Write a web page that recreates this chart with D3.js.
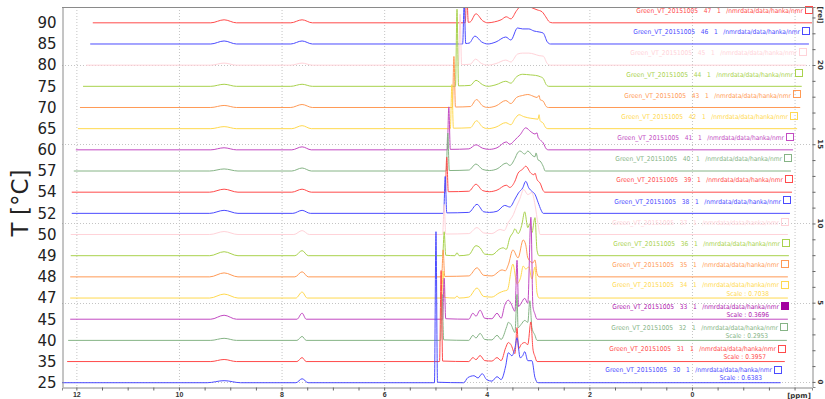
<!DOCTYPE html>
<html>
<head>
<meta charset="utf-8">
<script src="https://cdn.jsdelivr.net/npm/d3@7"></script>
<style>
  body { margin: 0; background: #fff; }
  svg { display: block; font-family: "DejaVu Sans", sans-serif; }
  .lbl { white-space: pre; font-family: "DejaVu Sans Condensed", "DejaVu Sans", sans-serif; font-size: 6.6px; }
</style>
</head>
<body>
<svg id="chart" width="825" height="399"></svg>
<script>
// stacked VT spectra, bottom (25 °C) to top (90 °C)
const temps = [25, 35, 40, 45, 47, 48, 49, 50, 52, 54, 57, 60, 65, 70, 75, 80, 85, 90];
const expnos = [30, 31, 32, 33, 34, 35, 36, 37, 38, 39, 40, 41, 42, 43, 44, 45, 46, 47];
const scaleFactors = [0.6383, 0.3957, 0.2953, 0.3696, 0.7038, null, null, null, null,
  null, null, null, null, null, null, null, null, null];
const ppmFrom = [12.28, 12.18, 12.16, 12.12, 12.12, 12.12, 12.11, 12.11, 12.09,
  12.09, 12.05, 12.01, 11.97, 11.93, 11.87, 11.81, 11.73, 11.68];
const ppmTo = [-1.73, -1.81, -1.85, -1.87, -1.87, -1.87, -1.89, -1.87, -1.91,
  -1.95, -1.93, -1.97, -2.05, -2.11, -2.14, -2.22, -2.28, -2.34];
const selected = 3; // expno 33 has the filled box

const lineColors = ["#4b4bff", "#ff4b4b", "#86b486", "#c24ac2",
  "#ffd94f", "#ff9a55", "#a9d24d", "#ffd3d9"];

// [ppm, intensity (rel)], baseline implied elsewhere
const s25 = [[9.45,0],[9.12,.13],[8.8,0],[7.72,0],[7.6,.25],[7.48,0],[5.02,0],[4.99,9.53],[4.96,.03],
  [4.45,0],[4.37,.32],[4.25,.44],[4.17,.3],[4.09,.57],[4.0,.19],[3.9,.1],[3.8,.38],[3.72,.2],[3.63,1.07],
  [3.58,1.89],[3.51,1.7],[3.45,2.2],[3.41,2.84],[3.35,1.58],[3.3,1.7],[3.26,1.96],[3.2,1.39],[3.12,1.39],
  [3.06,.32],[3.0,0]];
const s35 = [[9.38,0],[9.12,.13],[8.88,0],[7.7,0],[7.6,.25],[7.52,0],[4.92,0],[4.89,5.74],[4.86,.03],
  [4.35,0],[4.27,.25],[4.21,.12],[4.13,.38],[4.04,.06],[3.9,.03],[3.8,.25],[3.72,.06],[3.63,.88],
  [3.58,1.2],[3.53,1.07],[3.45,.5],[3.41,2.14],[3.38,.8],[3.33,1.07],[3.26,1.2],[3.2,1.07],[3.14,2.5],
  [3.1,.8],[3.06,.32],[3.02,0]];
const s40 = [[9.38,0],[9.12,.13],[8.88,0],[7.7,0],[7.6,.25],[7.52,0],[4.9,0],[4.87,2.9],[4.84,.03],
  [4.35,0],[4.27,.32],[4.21,.15],[4.13,.44],[4.04,.06],[3.9,.03],[3.8,.32],[3.72,.06],[3.61,.88],
  [3.58,1.14],[3.53,1.01],[3.45,.5],[3.41,2.9],[3.39,.8],[3.33,1.01],[3.26,1.26],[3.2,1.14],[3.16,2.5],
  [3.12,.8],[3.06,.32],[3.02,0]];
const s45 = [[9.38,0],[9.12,.25],[8.88,0],[7.7,0],[7.6,.38],[7.52,0],[4.86,0],[4.83,2.59],[4.8,.03],
  [4.35,0],[4.27,.38],[4.21,.19],[4.13,.57],[4.04,.06],[3.9,.03],[3.8,.38],[3.72,.06],[3.65,.88],
  [3.58,1.2],[3.53,1.01],[3.45,.5],[3.41,3.72],[3.38,.8],[3.33,1.01],[3.26,1.32],[3.2,1.01],[3.14,6.43],
  [3.1,.8],[3.06,.32],[3.02,0]];
const s47 = [[9.4,0],[9.12,.25],[8.85,0],[7.72,0],[7.6,.38],[7.5,0],[4.88,0],[4.85,1.7],[4.82,.03],
  [4.62,0],[4.58,.13],[4.54,0],[4.35,.06],[4.19,.63],[4.06,.1],[3.9,.06],[3.76,.32],[3.67,.44],[3.6,.5],
  [3.49,2.14],[3.41,.9],[3.34,1.3],[3.29,2.02],[3.24,1.83],[3.18,1.96],[3.12,1.2],[3.06,1.96],[3.02,.32],
  [2.98,0]];
const s48 = [[9.4,0],[9.12,.25],[8.85,0],[7.74,0],[7.6,.32],[7.48,0],[4.88,0],[4.85,1.7],[4.82,.03],
  [4.35,.06],[4.19,.57],[4.06,.1],[3.9,.06],[3.7,.44],[3.64,.38],[3.58,.76],[3.49,1.7],[3.39,1.2],
  [3.29,2.33],[3.24,2.02],[3.2,1.2],[3.1,.88],[3.06,1.07],[3.02,.2],[2.98,0]];
const s49 = [[9.4,0],[9.12,.25],[8.85,0],[7.74,0],[7.6,.32],[7.48,0],[4.86,0],[4.83,1.51],[4.8,.03],
  [4.62,0],[4.58,.19],[4.54,0],[4.35,.06],[4.21,.63],[4.13,.5],[4.04,.1],[3.9,.06],[3.74,.44],[3.68,.5],
  [3.62,.4],[3.55,1.14],[3.49,1.45],[3.45,1.7],[3.39,1.39],[3.32,1.9],[3.26,2.77],[3.2,1.77],[3.16,2.02],
  [3.12,1.45],[3.06,2.4],[3.02,.32],[2.98,0]];
const s50 = [[9.4,0],[9.12,.19],[8.85,0],[7.76,0],[7.6,.25],[7.46,0],[4.86,0],[4.83,1.9],[4.8,.03],
  [4.35,.06],[4.19,.44],[4.06,.1],[3.9,.06],[3.74,.32],[3.66,.25],[3.58,.76],[3.48,1.26],[3.42,1.77],
  [3.36,2.21],[3.28,2.84],[3.2,2.52],[3.12,2.65],[3.06,1.89],[3.0,.63],[2.96,0]];
const s52 = [[9.4,0],[9.12,.19],[8.85,0],[7.78,0],[7.6,.19],[7.44,0],[4.84,0],[4.81,2.33],[4.78,.03],
  [4.35,.06],[4.19,.57],[4.06,.1],[3.95,.06],[3.8,.13],[3.65,.5],[3.55,.4],[3.45,.9],[3.38,1.3],
  [3.3,1.6],[3.24,2.02],[3.18,1.6],[3.12,1.39],[3.06,1.2],[3.0,.7],[2.94,.2],[2.9,0]];
const s54 = [[9.4,0],[9.12,.19],[8.85,0],[7.8,0],[7.6,.19],[7.42,0],[4.81,0],[4.78,2.21],[4.75,.03],
  [4.35,.06],[4.21,.5],[4.08,.1],[3.95,.03],[3.8,.13],[3.62,.44],[3.55,.3],[3.45,.7],[3.39,1.2],
  [3.3,1.45],[3.24,1.64],[3.14,1.2],[3.08,1.1],[3.06,1.2],[3.02,.8],[2.96,.57],[2.9,.1],[2.87,0]];
const s57 = [[9.4,0],[9.12,.13],[8.85,0],[7.8,0],[7.6,.19],[7.42,0],[4.79,0],[4.76,2.4],[4.73,.03],
  [4.35,.06],[4.21,.44],[4.08,.1],[3.95,.03],[3.8,.13],[3.62,.5],[3.55,.35],[3.45,.8],[3.4,1.14],
  [3.35,1.26],[3.26,1.07],[3.2,1.26],[3.1,.95],[3.06,.9],[3.04,1.14],[3.0,.7],[2.96,.63],[2.9,.3],[2.86,0]];
const s60 = [[9.38,0],[9.12,.13],[8.88,0],[7.8,0],[7.6,.19],[7.42,0],[4.77,0],[4.74,2.71],[4.71,.03],
  [4.35,.06],[4.21,.32],[4.08,.1],[3.95,.03],[3.8,.13],[3.62,.5],[3.55,.35],[3.45,.63],[3.35,.95],
  [3.24,1.39],[3.14,1.14],[3.06,1.0],[3.02,1.07],[3.0,.8],[2.96,.63],[2.9,.44],[2.84,.06],[2.8,0]];
const s65 = [[9.38,0],[9.12,.13],[8.88,0],[7.8,0],[7.6,.19],[7.42,0],[4.71,0],[4.68,2.78],[4.65,.03],
  [4.32,.06],[4.2,.5],[4.08,.1],[3.98,0],[3.82,.1],[3.63,.38],[3.53,.25],[3.45,.63],[3.37,.88],
  [3.28,.76],[3.2,.69],[3.08,.63],[3.0,.6],[2.98,.88],[2.96,.5],[2.9,.35],[2.85,.06],[2.81,0]];
const s70 = [[9.38,0],[9.12,.13],[8.88,0],[7.82,0],[7.6,.19],[7.4,0],[4.67,0],[4.64,3.22],[4.61,.03],
  [4.32,.06],[4.2,.5],[4.08,.1],[3.98,0],[3.82,.1],[3.63,.44],[3.53,.25],[3.42,.63],[3.3,.76],
  [3.2,.82],[3.1,.72],[3.02,.63],[2.98,.76],[2.96,.5],[2.9,.4],[2.84,.06],[2.8,0]];
const s75 = [[9.38,0],[9.12,.13],[8.88,0],[7.82,0],[7.6,.13],[7.4,0],[4.61,0],[4.58,4.86],[4.55,.03],
  [4.32,.06],[4.21,.38],[4.08,.1],[3.98,0],[3.82,.1],[3.63,.32],[3.53,.2],[3.42,.6],[3.3,.76],
  [3.15,.72],[3.05,.69],[2.95,.6],[2.9,.5],[2.84,.1],[2.79,0]];
const s80 = [[9.38,0],[9.12,.13],[8.88,0],[7.82,0],[7.6,.13],[7.4,0],[4.55,0],[4.52,3.22],[4.49,.03],
  [4.32,.06],[4.22,.38],[4.1,.1],[3.98,0],[3.82,.1],[3.63,.32],[3.53,.2],[3.4,.7],[3.3,.76],
  [3.18,.76],[3.08,.7],[2.98,.6],[2.9,.57],[2.82,.1],[2.76,0]];
const s85 = [[9.38,0],[9.12,.19],[8.88,0],[7.82,0],[7.6,.19],[7.4,0],[4.47,0],[4.44,2.6],[4.41,.03],
  [4.34,.06],[4.23,.5],[4.1,.13],[3.98,0],[3.82,.13],[3.63,.44],[3.53,.25],[3.4,1.01],[3.3,.95],
  [3.18,.95],[3.08,.82],[2.98,.76],[2.9,.69],[2.82,.13],[2.76,0]];
const s90 = [[9.38,0],[9.12,.19],[8.88,0],[7.82,0],[7.6,.19],[7.4,0],[4.42,0],[4.39,1.9],[4.36,.03],
  [4.32,.06],[4.21,.57],[4.08,.13],[3.98,0],[3.85,.06],[3.72,.19],[3.62,.38],[3.53,.25],[3.42,.76],
  [3.33,1.07],[3.22,1.07],[3.12,.95],[3.02,.82],[2.92,.69],[2.85,.38],[2.78,.06],[2.72,0]];

const spectra = [s25, s35, s40, s45, s47, s48, s49, s50, s52, s54, s57, s60, s65, s70, s75, s80, s85, s90];

const plotL = 62, plotR = 812, plotT = 7, plotB = 387;
const step = 1.336;   // vertical offset between stacked rows, rel units
const x = d3.scaleLinear([12.28, -2.34], [plotL, plotR]);
const y = d3.scaleLinear([-0.32, 23.66], [plotB, plotT]);
const offsets = temps.map((t, i) => i * step - 0.05);
const colorOf = i => lineColors[i % lineColors.length];

const svg = d3.select("#chart");

svg.append("clipPath").attr("id", "plot-clip")
  .append("rect").attr("x", plotL).attr("y", plotT)
  .attr("width", plotR - plotL).attr("height", plotB - plotT);

// dotted grid
const grid = svg.append("g").attr("stroke", "#c4c4c4").attr("stroke-dasharray", "1,2");
grid.selectAll("line.v").data([12, 10, 8, 6, 4, 2, 0, -2]).join("line")
  .attr("class", "v")
  .attr("x1", d => x(d) + 0.5).attr("x2", d => x(d) + 0.5)
  .attr("y1", plotT).attr("y2", plotB);
grid.selectAll("line.h").data([0, 5, 10, 15, 20]).join("line")
  .attr("class", "h")
  .attr("x1", plotL).attr("x2", plotR)
  .attr("y1", d => Math.round(y(d)) + 0.5).attr("y2", d => Math.round(y(d)) + 0.5);

// spectra, top row first so lower rows sit on top
const line = d3.line()
  .x(d => x(d[0]))
  .y(d => y(d[1]))
  .curve(d3.curveMonotoneX);

const traces = svg.append("g").attr("clip-path", "url(#plot-clip)");
d3.range(spectra.length).reverse().forEach(i => {
  const pts = [[ppmFrom[i], 0], ...spectra[i], [ppmTo[i], 0]]
    .map(([p, v]) => [p, v + offsets[i]]);
  traces.append("path")
    .attr("d", line(pts))
    .attr("fill", "none")
    .attr("stroke", colorOf(i))
    .attr("stroke-width", 1);
});

// row titles, boxes, scale notes
const labels = svg.append("g");
spectra.forEach((s, i) => {
  const base = y(offsets[i]);
  const bx = Math.round(x(ppmTo[i])) - 7;
  const c = colorOf(i);
  const lift = scaleFactors[i] ? 13 : 12;
  labels.append("rect")
    .attr("x", bx + 0.5).attr("y", Math.round(base - 17) + 0.5)
    .attr("width", 7).attr("height", 7)
    .attr("fill", i === selected ? "#a3009f" : "none")
    .attr("stroke", i === selected ? "#a3009f" : c);
  labels.append("text").attr("class", "lbl")
    .attr("x", bx - 2).attr("y", base - lift + 2.3)
    .attr("text-anchor", "end")
    .attr("fill", i === selected ? "#b020b0" : c)
    .text(`Green_VT_20151005   ${expnos[i]}   1   /nmrdata/data/hanka/nmr`);
  if (scaleFactors[i]) {
    labels.append("text").attr("class", "lbl")
      .attr("x", bx - 12).attr("y", base - 2.5)
      .attr("text-anchor", "end")
      .attr("fill", i === selected ? "#b020b0" : c)
      .text(`Scale : ${scaleFactors[i].toFixed(4)}`);
  }
});

// frame
svg.append("line").attr("x1", plotL).attr("x2", plotR).attr("y1", plotT + 0.5).attr("y2", plotT + 0.5)
  .attr("stroke", "#8a8a8a");

// left axis: temperatures at each row baseline
const yAxis = svg.append("g")
  .attr("transform", `translate(${plotL + 0.5},0)`)
  .call(d3.axisLeft(y).tickValues(offsets).tickFormat((d, i) => temps[i]).tickSize(0).tickPadding(6));
yAxis.select(".domain").attr("stroke", "#8a8a8a");
yAxis.selectAll("text").attr("font-size", 15).attr("fill", "#222")
  .attr("font-family", "DejaVu Sans, sans-serif");

svg.append("text")
  .attr("transform", "translate(28,203) rotate(-90)")
  .attr("text-anchor", "middle")
  .attr("font-size", 23)
  .attr("fill", "#222")
  .text("T [°C]");

// bottom axis, ppm
const xAxis = svg.append("g")
  .attr("transform", `translate(0,${plotB + 0.5})`)
  .call(d3.axisBottom(x).tickValues(d3.range(-2, 12.5, 0.5)).tickSize(3).tickPadding(2)
    .tickFormat(d => (d >= 0 && d % 2 === 0) ? d : ""));
xAxis.select(".domain").attr("stroke", "#8a8a8a");
xAxis.selectAll(".tick line").attr("stroke", "#666");
xAxis.selectAll("text").attr("font-size", 7).attr("font-weight", "bold").attr("fill", "#333");
svg.append("text").attr("x", 799).attr("y", 398)
  .attr("text-anchor", "middle").attr("font-size", 7).attr("font-weight", "bold").attr("fill", "#333")
  .text("[ppm]");

// right axis, rel
const rAxis = svg.append("g")
  .attr("transform", `translate(${plotR + 0.5},0)`)
  .call(d3.axisRight(y).tickValues(d3.range(0, 24, 1)).tickSize(3).tickFormat(""));
rAxis.select(".domain").attr("stroke", "#8a8a8a");
rAxis.selectAll(".tick line").attr("stroke", "#666");
svg.append("g").selectAll("text").data([0, 5, 10, 15, 20]).join("text")
  .attr("transform", d => `translate(818,${y(d)}) rotate(90)`)
  .attr("text-anchor", "middle")
  .attr("font-size", 7).attr("font-weight", "bold").attr("fill", "#333")
  .text(d => d);
svg.append("text")
  .attr("transform", `translate(818,15) rotate(90)`)
  .attr("text-anchor", "middle")
  .attr("font-size", 7).attr("font-weight", "bold").attr("fill", "#333")
  .text("[rel]");
</script>
</body>
</html>
